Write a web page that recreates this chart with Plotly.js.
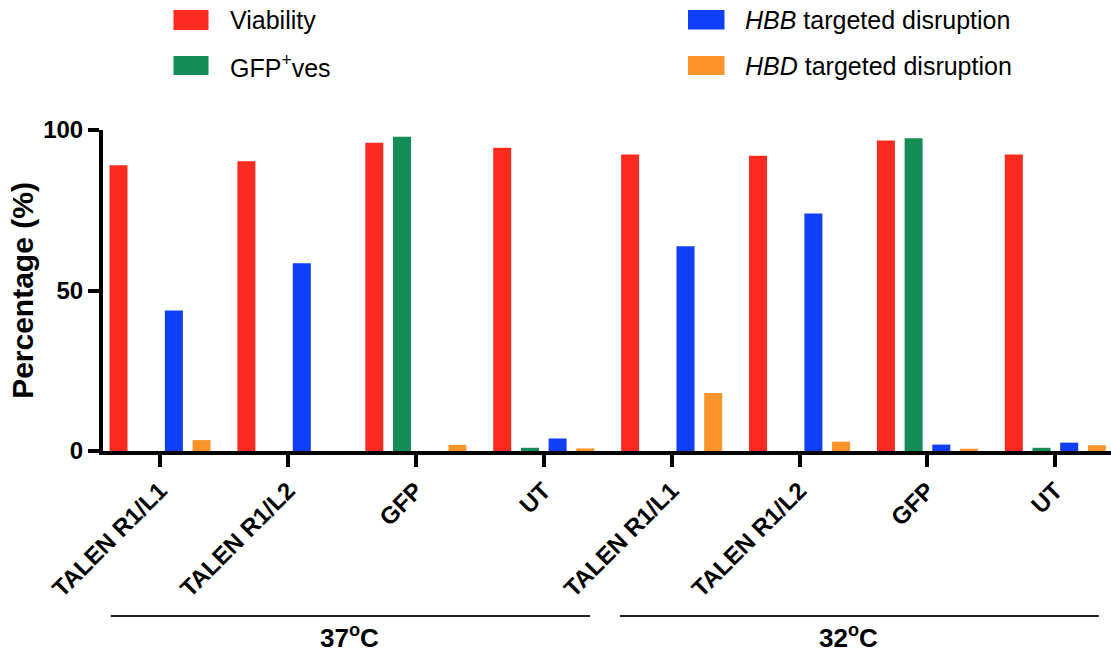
<!DOCTYPE html>
<html>
<head>
<meta charset="utf-8">
<script src="https://cdn.plot.ly/plotly-3.0.1.min.js"></script>
<style>
html,body{margin:0;padding:0;background:#fff;}
#chart{width:1111px;height:653px;}
</style>
</head>
<body>
<div id="chart"></div>
<script>
// ---- data ----
const categories = ['TALEN R1/L1','TALEN R1/L2','GFP','UT','TALEN R1/L1','TALEN R1/L2','GFP','UT'];
const seriesNames = ['Viability','GFP<sup>+</sup>ves','<i>HBB</i> targeted disruption','<i>HBD</i> targeted disruption'];
const seriesColors = ['#FC2A1F','#138D55','#103FF9','#FC9429'];
const viability = [89.0, 90.3, 96.0, 94.5, 92.4, 92.0, 96.7, 92.4];
const gfpPos    = [0, 0, 97.9, 1.0, 0, 0, 97.4, 1.0];
const hbbDisr   = [43.8, 58.5, 0, 3.9, 63.8, 74.0, 2.0, 2.6];
const hbdDisr   = [3.4, 0, 1.9, 0.8, 18.1, 2.9, 0.7, 1.8];
const groups = ['37<sup>o</sup>C','32<sup>o</sup>C'];
const yTicks = [0, 50, 100];

// ---- layout geometry (pixels) ----
const W = 1111, H = 653;
const M = {l:103, r:0, t:130, b:202};
const plotW = W - M.l - M.r, plotH = H - M.t - M.b;
const px2x = p => (p - M.l) / plotW;        // paper x
const py2y = p => (H - M.b - p) / plotH;    // paper y

const xs = categories.map((c,i)=>i);
const values = [viability, gfpPos, hbbDisr, hbdDisr];

const traces = values.map((v,k)=>({
  type:'bar', x: xs, y: v, name: seriesNames[k],
  marker:{color: seriesColors[k], line:{width:0}},
  showlegend:false, hoverinfo:'y'
}));

const shapes = [];
const annotations = [];

// group bracket lines + labels
const groupSpan = [[-0.385, 3.362],[3.597, 7.34]];
const groupTextX = [349.5, 848];
groups.forEach((g,i)=>{
  shapes.push({type:'line', xref:'x', yref:'paper',
    x0: groupSpan[i][0], x1: groupSpan[i][1], y0: py2y(616), y1: py2y(616),
    line:{color:'#222', width:2}});
  annotations.push({xref:'paper', yref:'paper', x: px2x(groupTextX[i]), y: py2y(636),
    text: g, showarrow:false, xanchor:'center', yanchor:'middle',
    font:{family:'Liberation Sans, Arial, sans-serif', size:26, color:'#000', weight:'bold'}});
});

// custom legend (2 columns)
const legPos = [
  {bx0:173.5, bx1:208.5, by0:10, by1:30, tx:228, ty:20},
  {bx0:173.5, bx1:208.5, by0:56, by1:75, tx:228, ty:65.5},
  {bx0:688, bx1:724.5, by0:10, by1:29.5, tx:743, ty:20},
  {bx0:688, bx1:724.5, by0:56, by1:75, tx:743, ty:65.5}
];
seriesNames.forEach((n,k)=>{
  const p = legPos[k];
  shapes.push({type:'rect', xref:'paper', yref:'paper',
    x0:px2x(p.bx0), x1:px2x(p.bx1), y0:py2y(p.by1), y1:py2y(p.by0),
    fillcolor: seriesColors[k], line:{width:0}});
  annotations.push({xref:'paper', yref:'paper', x:px2x(p.tx), y:py2y(p.ty),
    text:n, showarrow:false, xanchor:'left', yanchor:'middle',
    font:{family:'Liberation Sans, Arial, sans-serif', size:25, color:'#000'}});
});

const layout = {
  width:W, height:H,
  margin:M,
  paper_bgcolor:'#fff', plot_bgcolor:'#fff',
  barmode:'group', bargap:0.134, bargroupgap:0.35,
  showlegend:false,
  font:{family:'Liberation Sans, Arial, sans-serif', color:'#000'},
  xaxis:{
    range:[-0.446, 7.435], tickmode:'array', tickvals: xs, ticktext: categories,
    tickangle:-45, ticks:'outside', ticklen:12, tickwidth:4, tickcolor:'#000',
    showline:true, linewidth:4, linecolor:'#000', showgrid:false, zeroline:false,
    tickfont:{size:24, weight:'bold', color:'#000'}, fixedrange:true
  },
  yaxis:{
    range:[0,100], tickmode:'array', tickvals:yTicks, ticktext:yTicks.map(String),
    ticks:'outside', ticklen:11, tickwidth:4, tickcolor:'#000',
    showline:true, linewidth:4, linecolor:'#000', showgrid:false, zeroline:false,
    tickfont:{size:24, weight:'bold', color:'#000'},
    title:{text:'Percentage (%)', font:{size:30, weight:'bold', color:'#000'}, standoff:2},
    fixedrange:true
  },
  shapes: shapes,
  annotations: annotations
};

Plotly.newPlot('chart', traces, layout, {displayModeBar:false, staticPlot:true});
</script>
</body>
</html>
